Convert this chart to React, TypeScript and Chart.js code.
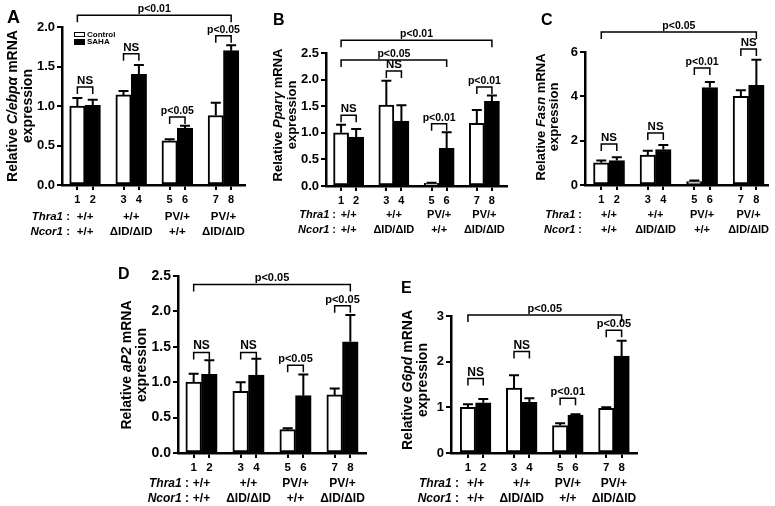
import React, { useEffect, useRef } from 'react';
import { Chart, registerables } from 'chart.js';

Chart.register(...registerables);

const FAM = '"Liberation Sans", Arial, Helvetica, sans-serif';

// ---------- shared categories ----------
const barNumbers = ['1', '2', '3', '4', '5', '6', '7', '8'];
const barSlots = [1, 2, 4, 5, 7, 8, 10, 11];
const thra1Genotypes = ['+/+', '+/+', 'PV/+', 'PV/+'];
const ncor1Genotypes = ['+/+', 'ΔID/ΔID', '+/+', 'ΔID/ΔID'];
const seriesNames = ['Control', 'SAHA'];

// ---------- A: C/ebpα ----------
const cebpaControl = [1.0, 1.14, 0.56, 0.88];
const cebpaControlSem = [0.1, 0.05, 0.02, 0.16];
const cebpaSaha = [1.01, 1.4, 0.72, 1.7];
const cebpaSahaSem = [0.07, 0.12, 0.03, 0.07];
const cebpaBrackets: [number, number, number, string][] = [
  [1, 8, 2.15, 'p<0.01'],
  [1, 2, 1.24, 'NS'],
  [3, 4, 1.66, 'NS'],
  [5, 6, 0.86, 'p<0.05'],
  [7, 8, 1.89, 'p<0.05'],
];

// ---------- B: Pparγ ----------
const ppargControl = [1.0, 1.52, 0.05, 1.18];
const ppargControlSem = [0.15, 0.46, 0.01, 0.25];
const ppargSaha = [0.92, 1.22, 0.71, 1.59];
const ppargSahaSem = [0.15, 0.3, 0.3, 0.11];
const ppargBrackets: [number, number, number, string][] = [
  [1, 8, 2.74, 'p<0.01'],
  [1, 6, 2.37, 'p<0.05'],
  [1, 2, 1.33, 'NS'],
  [3, 4, 2.16, 'NS'],
  [5, 6, 1.17, 'p<0.01'],
  [7, 8, 1.86, 'p<0.01'],
];

// ---------- C: Fasn ----------
const fasnControl = [1.0, 1.35, 0.15, 4.0];
const fasnControlSem = [0.1, 0.2, 0.05, 0.28];
const fasnSaha = [1.1, 1.6, 4.4, 4.5];
const fasnSahaSem = [0.15, 0.2, 0.25, 1.15];
const fasnBrackets: [number, number, number, string][] = [
  [1, 8, 6.9, 'p<0.05'],
  [1, 2, 1.85, 'NS'],
  [3, 4, 2.35, 'NS'],
  [5, 6, 5.28, 'p<0.01'],
  [7, 8, 6.13, 'NS'],
];

// ---------- D: aP2 ----------
const ap2Control = [1.0, 0.87, 0.33, 0.82];
const ap2ControlSem = [0.12, 0.13, 0.02, 0.09];
const ap2Saha = [1.11, 1.1, 0.81, 1.57];
const ap2SahaSem = [0.2, 0.23, 0.3, 0.38];
const ap2Brackets: [number, number, number, string][] = [
  [1, 8, 2.38, 'p<0.05'],
  [1, 2, 1.42, 'NS'],
  [3, 4, 1.42, 'NS'],
  [5, 6, 1.24, 'p<0.05'],
  [7, 8, 2.08, 'p<0.05'],
];

// ---------- E: G6pd ----------
const g6pdControl = [1.0, 1.42, 0.6, 0.98];
const g6pdControlSem = [0.07, 0.28, 0.05, 0.02];
const g6pdSaha = [1.1, 1.11, 0.83, 2.12];
const g6pdSahaSem = [0.08, 0.09, 0.02, 0.34];
const g6pdBrackets: [number, number, number, string][] = [
  [1, 8, 3.02, 'p<0.05'],
  [1, 2, 1.63, 'NS'],
  [3, 4, 2.22, 'NS'],
  [5, 6, 1.2, 'p<0.01'],
  [7, 8, 2.69, 'p<0.05'],
];

type Panel = {
  letter: string;
  gene: string;
  control: number[];
  controlErr: number[];
  saha: number[];
  sahaErr: number[];
  brackets: [number, number, number, string][];
  yMax: number;
  yStep: number;
  yDec: number;
  legend: boolean;
};

const panels: Panel[] = [
  { letter: 'A', gene: 'C/ebpα', control: cebpaControl, controlErr: cebpaControlSem, saha: cebpaSaha, sahaErr: cebpaSahaSem, brackets: cebpaBrackets, yMax: 2, yStep: 0.5, yDec: 1, legend: true },
  { letter: 'B', gene: 'Pparγ', control: ppargControl, controlErr: ppargControlSem, saha: ppargSaha, sahaErr: ppargSahaSem, brackets: ppargBrackets, yMax: 2.5, yStep: 0.5, yDec: 1, legend: false },
  { letter: 'C', gene: 'Fasn', control: fasnControl, controlErr: fasnControlSem, saha: fasnSaha, sahaErr: fasnSahaSem, brackets: fasnBrackets, yMax: 6, yStep: 2, yDec: 0, legend: false },
  { letter: 'D', gene: 'aP2', control: ap2Control, controlErr: ap2ControlSem, saha: ap2Saha, sahaErr: ap2SahaSem, brackets: ap2Brackets, yMax: 2.5, yStep: 0.5, yDec: 1, legend: false },
  { letter: 'E', gene: 'G6pd', control: g6pdControl, controlErr: g6pdControlSem, saha: g6pdSaha, sahaErr: g6pdSahaSem, brackets: g6pdBrackets, yMax: 3, yStep: 1, yDec: 0, legend: false },
];

// Layout (pixel geometry & fonts), one per panel
type Geo = {
  left: number; right: number; top: number; bottom: number;
  xMin: number; xMax: number;
  letterX: number; letterY: number; letterSize: number;
  titleX: [number, number]; titleY: number; titleSize: number;
  rowY: [number, number]; colonX: number; genoSize: number;
  yTickSize: number; xTickSize: number; pSize: number;
};

const layouts: Geo[] = [
  { left: 62, right: 245, top: 27, bottom: 185, xMin: 0, xMax: 11.9, letterX: 7, letterY: 23, letterSize: 18, titleX: [13, 28], titleY: 106, titleSize: 14, rowY: [217, 232], colonX: 70, genoSize: 11.5, yTickSize: 13, xTickSize: 11, pSize: 10.5 },
  { left: 326, right: 507, top: 53, bottom: 186, xMin: 0, xMax: 12, letterX: 273, letterY: 25, letterSize: 16, titleX: [278, 292], titleY: 115, titleSize: 13, rowY: [215, 229.5], colonX: 336, genoSize: 11, yTickSize: 13, xTickSize: 11, pSize: 10.5 },
  { left: 585, right: 768, top: 52, bottom: 185, xMin: -0.05, xMax: 11.75, letterX: 541, letterY: 25, letterSize: 16, titleX: [541, 554], titleY: 117, titleSize: 13, rowY: [215, 229.5], colonX: 582, genoSize: 11, yTickSize: 13, xTickSize: 11, pSize: 10.5 },
  { left: 178, right: 366, top: 276, bottom: 453, xMin: 0, xMax: 12, letterX: 118, letterY: 279, letterSize: 16, titleX: [127, 142], titleY: 365, titleSize: 14, rowY: [484, 499], colonX: 189, genoSize: 12, yTickSize: 14, xTickSize: 11.5, pSize: 11 },
  { left: 451, right: 637, top: 316, bottom: 453, xMin: -0.1, xMax: 12, letterX: 401, letterY: 293, letterSize: 16, titleX: [408, 423], titleY: 380, titleSize: 14, rowY: [483.5, 498.5], colonX: 459, genoSize: 12, yTickSize: 13, xTickSize: 11.5, pSize: 11 },
];

function fontStr(size: number, italic = false) {
  return `${italic ? 'italic ' : ''}bold ${size}px ${FAM}`;
}

function drawMixed(ctx: CanvasRenderingContext2D, parts: [string, boolean][], x: number, y: number, align: 'left' | 'center' | 'right', size: number) {
  const widths = parts.map(([t, it]) => {
    ctx.font = fontStr(size, it);
    return ctx.measureText(t).width;
  });
  const total = widths.reduce((a, b) => a + b, 0);
  let cx = align === 'left' ? x : align === 'center' ? x - total / 2 : x - total;
  ctx.textAlign = 'left';
  parts.forEach(([t, it], i) => {
    ctx.font = fontStr(size, it);
    ctx.fillText(t, cx, y);
    cx += widths[i];
  });
}

const Y_W = 45;
const X_H = 22;

function buildChart(canvas: HTMLCanvasElement, p: Panel, g: Geo) {
  const extras = {
    id: 'extras' + p.letter,
    afterDraw(chart: any) {
      const ctx: CanvasRenderingContext2D = chart.ctx;
      const xs = chart.scales.x;
      const ys = chart.scales.y;
      const barX = (k: number) => xs.getPixelForValue(barSlots[k]);
      ctx.save();
      ctx.fillStyle = '#000';
      ctx.strokeStyle = '#000';

      // error bars (upper whisker)
      ctx.lineWidth = 2;
      for (let i = 0; i < 8; i++) {
        const grp = i >> 1;
        const isSaha = i % 2 === 1;
        const v = isSaha ? p.saha[grp] : p.control[grp];
        const e = isSaha ? p.sahaErr[grp] : p.controlErr[grp];
        const x = barX(i);
        const y0 = ys.getPixelForValue(v);
        const y1 = ys.getPixelForValue(v + e);
        ctx.beginPath();
        ctx.moveTo(x, y0);
        ctx.lineTo(x, y1);
        ctx.moveTo(x - 5, y1);
        ctx.lineTo(x + 5, y1);
        ctx.stroke();
      }

      // significance brackets
      ctx.lineWidth = 1.5;
      ctx.textBaseline = 'alphabetic';
      for (const [a, b, level, label] of p.brackets) {
        const x1 = barX(a - 1);
        const x2 = barX(b - 1);
        const y = ys.getPixelForValue(level);
        ctx.beginPath();
        ctx.moveTo(x1, y + 7);
        ctx.lineTo(x1, y);
        ctx.lineTo(x2, y);
        ctx.lineTo(x2, y + 7);
        ctx.stroke();
        ctx.font = fontStr(label === 'NS' ? g.pSize + 1 : g.pSize);
        ctx.textAlign = 'center';
        ctx.fillText(label, (x1 + x2) / 2, y - 3);
      }

      // genotype rows
      ctx.textBaseline = 'middle';
      drawMixed(ctx, [['Thra1', true], [' :', false]], g.colonX, g.rowY[0], 'right', g.genoSize);
      drawMixed(ctx, [['Ncor1', true], [' :', false]], g.colonX, g.rowY[1], 'right', g.genoSize);
      ctx.font = fontStr(g.genoSize);
      ctx.textAlign = 'center';
      for (let k = 0; k < 4; k++) {
        const cx = (barX(2 * k) + barX(2 * k + 1)) / 2;
        ctx.fillText(thra1Genotypes[k], cx, g.rowY[0]);
        ctx.fillText(ncor1Genotypes[k], cx, g.rowY[1]);
      }

      // y-axis title (rotated, two lines)
      ctx.save();
      ctx.translate(g.titleX[0], g.titleY);
      ctx.rotate(-Math.PI / 2);
      ctx.textBaseline = 'middle';
      drawMixed(ctx, [['Relative ', false], [p.gene, true], [' mRNA', false]], 0, 0, 'center', g.titleSize);
      ctx.restore();
      ctx.save();
      ctx.translate(g.titleX[1], g.titleY);
      ctx.rotate(-Math.PI / 2);
      ctx.textBaseline = 'middle';
      ctx.font = fontStr(g.titleSize);
      ctx.textAlign = 'center';
      ctx.fillText('expression', 0, 0);
      ctx.restore();

      // panel letter
      ctx.textBaseline = 'alphabetic';
      ctx.textAlign = 'left';
      ctx.font = fontStr(g.letterSize);
      ctx.fillText(p.letter, g.letterX, g.letterY);

      // legend
      if (p.legend) {
        const lx = 74;
        const rows = [32, 39];
        ctx.lineWidth = 1;
        ctx.font = fontStr(8);
        ctx.textBaseline = 'middle';
        ctx.textAlign = 'left';
        seriesNames.forEach((name, i) => {
          if (i === 0) {
            ctx.fillStyle = '#fff';
            ctx.fillRect(lx, rows[i], 11, 5);
            ctx.strokeRect(lx + 0.5, rows[i] + 0.5, 10, 4);
          } else {
            ctx.fillStyle = '#000';
            ctx.fillRect(lx, rows[i], 11, 6);
          }
          ctx.fillStyle = '#000';
          ctx.fillText(name, lx + 13, rows[i] + 3);
        });
      }
      ctx.restore();
    },
  };

  const controlData = p.control.map((v, k) => ({ x: barSlots[2 * k], y: v }));
  const sahaData = p.saha.map((v, k) => ({ x: barSlots[2 * k + 1], y: v }));

  return new Chart(canvas, {
    type: 'bar',
    data: {
      datasets: [
        { label: seriesNames[0], data: controlData as any, backgroundColor: '#ffffff', borderColor: '#000000', borderWidth: 2, borderSkipped: false, grouped: false, barPercentage: 1, categoryPercentage: 1 } as any,
        { label: seriesNames[1], data: sahaData as any, backgroundColor: '#000000', borderColor: '#000000', borderWidth: 2, borderSkipped: false, grouped: false, barPercentage: 1, categoryPercentage: 1 } as any,
      ],
    },
    options: {
      animation: false,
      responsive: false,
      devicePixelRatio: 1,
      events: [],
      layout: {
        padding: {
          left: g.left - Y_W,
          right: 775 - g.right,
          top: g.top,
          bottom: 506 - g.bottom - X_H,
        },
      },
      plugins: { legend: { display: false }, tooltip: { enabled: false } },
      scales: {
        x: {
          type: 'linear',
          min: g.xMin,
          max: g.xMax,
          offset: false,
          afterBuildTicks: (s: any) => {
            s.ticks = barSlots.map((v) => ({ value: v }));
          },
          afterFit: (s: any) => {
            s.height = X_H;
          },
          ticks: {
            autoSkip: false,
            maxRotation: 0,
            padding: 3,
            color: '#000',
            font: { family: FAM, size: g.xTickSize, weight: 'bold' },
            callback: (v: any) => {
              const i = barSlots.indexOf(Number(v));
              return i >= 0 ? barNumbers[i] : '';
            },
          },
          grid: { drawOnChartArea: false, drawTicks: true, tickLength: 5, color: '#000', lineWidth: 2, offset: false },
          border: { display: true, color: '#000', width: 2.5 },
        } as any,
        y: {
          min: 0,
          max: p.yMax,
          afterFit: (s: any) => {
            s.width = Y_W;
          },
          ticks: {
            stepSize: p.yStep,
            padding: 2,
            color: '#000',
            font: { family: FAM, size: g.yTickSize, weight: 'bold' },
            callback: (v: any) => Number(v).toFixed(p.yDec),
          },
          grid: { drawOnChartArea: false, drawTicks: true, tickLength: 5, color: '#000', lineWidth: 2 },
          border: { display: true, color: '#000', width: 2.5 },
        } as any,
      },
    },
    plugins: [extras as any],
  });
}

function PanelCanvas({ p, g }: { p: Panel; g: Geo }) {
  const ref = useRef<HTMLCanvasElement>(null);
  useEffect(() => {
    if (!ref.current) return;
    const chart = buildChart(ref.current, p, g);
    return () => chart.destroy();
  }, [p, g]);
  return <canvas ref={ref} width={775} height={506} style={{ position: 'absolute', left: 0, top: 0, width: 775, height: 506 }} />;
}

export default function App() {
  return (
    <div style={{ position: 'absolute', left: 0, top: 0, width: 775, height: 506, background: '#fff', overflow: 'hidden' }}>
      {panels.map((p, i) => (
        <PanelCanvas key={p.letter} p={p} g={layouts[i]} />
      ))}
    </div>
  );
}
